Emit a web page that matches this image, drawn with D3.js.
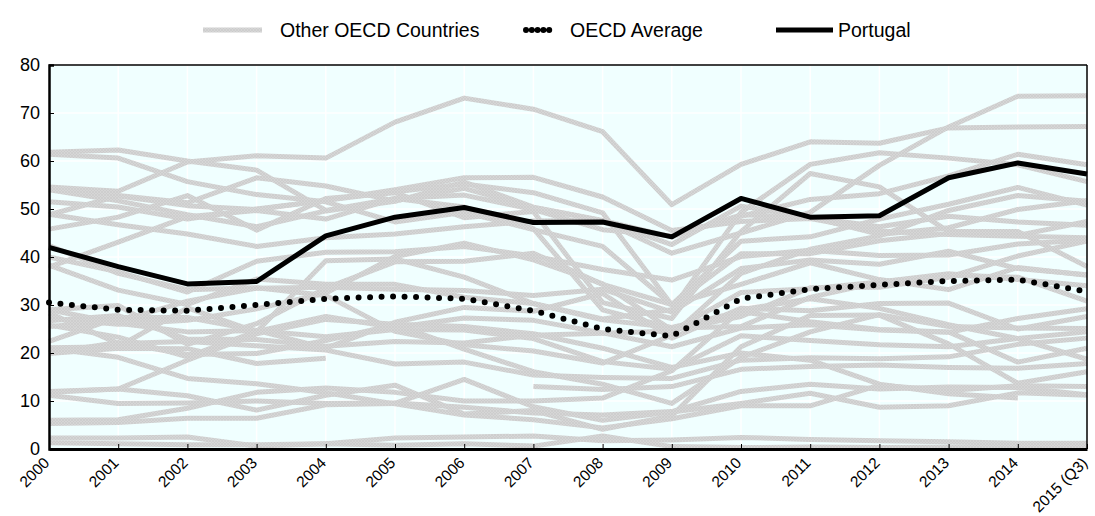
<!DOCTYPE html>
<html><head><meta charset="utf-8">
<script src="https://cdn.jsdelivr.net/npm/d3@7"></script>
<style>
body{margin:0;background:#fff;}
text{font-family:"Liberation Sans",Arial,sans-serif;fill:#000;}
</style></head>
<body><svg id="c" width="1095" height="516"></svg>
<script>
const years = ["2000","2001","2002","2003","2004","2005","2006","2007","2008","2009","2010","2011","2012","2013","2014","2015 (Q3)"];
const yTicks = [0,10,20,30,40,50,60,70,80];
const portugal = [42.0,38.0,34.4,34.9,44.4,48.3,50.3,47.2,47.3,44.2,52.2,48.3,48.6,56.5,59.6,57.3];
const oecdAverage = [30.5,29.0,28.8,30.0,31.3,31.8,31.3,28.8,25.0,23.5,31.3,33.3,34.2,35.0,35.3,32.8];
const otherNames = ["Slovak Republic","Italy","Slovenia","Belgium","Germany","Greece","Czech Republic","Hungary","Estonia","Poland","Ireland","France","Spain","Netherlands","Japan","Switzerland","Austria","United Kingdom","Luxembourg","Turkey","Finland","Denmark","Australia","Sweden","New Zealand","Iceland","Canada","United States","Norway","Israel","Korea","Mexico"];
const s01 = [54.6,53.7,59.8,61.1,60.6,68.1,73.1,70.8,66.1,50.9,59.3,64.0,63.7,66.9,67.1,67.2];
const s02 = [61.8,62.3,60.0,58.1,49.7,52.2,52.9,49.9,45.7,44.4,48.5,52.0,53.2,56.9,61.4,59.2];
const s03 = [61.4,60.6,55.7,53.0,51.5,47.3,49.3,45.7,42.2,30.1,43.3,44.2,47.9,51.0,54.5,50.8];
const s04 = [54.0,51.7,48.8,46.3,49.6,51.6,55.6,50.4,47.6,44.2,48.8,48.3,44.7,46.1,49.9,51.7];
const s05 = [51.5,50.4,47.9,50.0,51.8,54.0,56.5,56.6,52.5,45.5,47.4,48.0,45.4,44.7,44.3,44.0];
const s06 = [54.5,52.8,51.3,56.5,54.8,51.7,54.3,50.3,47.5,40.8,45.0,49.3,59.1,67.1,73.5,73.6];
const s07 = [48.8,52.7,50.7,49.9,51.8,53.6,55.2,53.4,49.2,30.0,40.7,40.7,43.4,44.9,44.5,47.4];
const s08 = [48.9,46.7,44.8,42.2,44.0,44.8,46.3,47.5,47.6,42.6,50.6,48.3,46.3,48.5,47.3,46.6];
const s09 = [45.8,48.3,52.8,45.6,52.2,53.4,48.2,49.5,30.5,27.2,45.3,57.4,54.6,45.3,45.3,38.0];
const s10 = [37.9,43.1,48.4,49.7,47.9,52.2,50.4,45.9,29.0,25.2,25.5,31.6,34.8,36.5,35.3,34.0];
const s11 = [38.3,33.1,30.1,35.4,34.3,34.3,31.6,30.3,27.1,29.0,49.3,59.3,61.7,60.6,59.2,55.7];
const s12 = [40.0,36.9,32.7,39.1,41.0,41.1,42.2,40.2,37.4,35.2,40.1,41.4,40.3,40.4,42.7,43.5];
const s13 = [42.4,36.6,33.2,33.6,32.0,24.5,21.7,20.4,17.9,23.7,36.6,41.6,44.4,49.7,52.8,51.6];
const s14 = [27.2,26.0,26.8,29.2,32.5,40.1,42.9,39.4,34.4,24.8,27.6,33.6,33.7,35.8,40.2,43.3];
const s15 = [25.5,26.6,30.8,33.5,33.7,33.3,33.0,32.0,33.3,28.5,37.6,39.4,38.5,41.2,37.6,36.3];
const s16 = [29.0,29.9,21.8,26.1,33.5,39.0,39.1,40.8,34.3,30.1,34.3,38.8,35.3,33.2,37.8,36.2];
const s17 = [25.8,23.3,19.2,24.5,27.6,25.3,27.3,26.8,24.2,21.3,25.2,25.9,24.8,24.3,27.2,29.2];
const s18 = [26.7,27.8,22.9,22.8,21.4,22.4,22.1,23.7,24.1,24.6,32.6,33.4,34.8,36.2,35.8,30.8];
const s19 = [22.4,27.4,27.4,24.7,21.0,26.4,29.5,28.7,32.4,23.1,29.3,28.8,30.3,30.4,25.0,27.6];
const s20 = [21.1,21.3,29.4,24.4,39.2,39.6,35.8,30.3,26.9,25.3,28.6,26.5,24.9,24.4,18.1,21.0];
const s21 = [29.0,26.2,24.4,24.7,23.4,24.9,24.8,23.0,18.2,16.6,23.6,22.6,21.7,21.3,23.0,24.4];
const s22 = [20.0,22.2,19.7,19.9,22.6,25.9,20.8,16.1,13.5,9.5,19.1,24.4,28.0,25.5,25.2,25.1];
const s23 = [28.3,22.0,22.4,21.5,20.6,17.7,18.1,15.4,14.9,14.7,18.5,19.0,18.8,19.2,21.8,23.1];
const s24 = [19.9,21.0,20.9,17.8,18.9,null,null,13.0,12.4,13.0,16.6,17.2,17.5,17.0,16.8,17.8];
const s25 = [21.0,19.1,14.7,13.6,11.7,9.4,7.1,6.1,4.4,6.3,9.0,9.0,13.3,12.2,13.2,13.0];
const s26 = [11.8,12.5,11.1,8.1,11.2,13.3,7.3,8.0,4.1,6.9,21.3,27.8,27.9,21.9,13.7,16.1];
const s27 = [11.2,9.5,9.6,10.0,9.5,9.6,8.7,7.5,7.1,7.8,12.0,13.5,12.5,12.9,12.8,11.3];
const s28 = [6.0,6.1,8.5,11.8,12.7,11.8,10.0,10.0,10.6,16.3,29.0,31.3,29.3,25.9,23.0,18.7];
const s29 = [5.3,5.5,6.4,6.4,9.2,9.5,14.5,8.8,6.0,7.7,9.5,11.6,8.7,9.0,11.7,11.2];
const s30 = [12.0,12.5,18.5,24.0,27.0,26.0,25.5,24.0,21.0,17.0,20.0,18.5,13.5,11.5,10.6,null];
const s31 = [2.3,2.3,2.5,0.6,1.1,0.8,1.1,0.6,2.7,0.5,0.3,0.4,0.3,0.4,0.6,0.4];
const s32 = [1.3,1.1,0.9,0.9,1.1,2.3,2.5,2.7,1.7,1.9,2.4,2.0,1.7,1.5,1.2,1.2];
const others = [s01,s02,s03,s04,s05,s06,s07,s08,s09,s10,s11,s12,s13,s14,s15,s16,s17,s18,s19,s20,s21,s22,s23,s24,s25,s26,s27,s28,s29,s30,s31,s32];
const legendLabels = ["Other OECD Countries","OECD Average","Portugal"];

const W = 1095, H = 516;
const m = {left:49, right:8, top:65, bottom:67};
const svg = d3.select("#c");
const defs = svg.append("defs");
const pat = defs.append("pattern").attr("id","hatch").attr("patternUnits","userSpaceOnUse")
  .attr("width",3).attr("height",3);
pat.append("rect").attr("width",3).attr("height",3).attr("fill","#d6d6d6");
pat.append("path").attr("d","M0,0L3,3M3,0L0,3").attr("stroke","#c9c9c9").attr("stroke-width",0.6);

const x = d3.scalePoint().domain(years).range([m.left, W - m.right]);
const y = d3.scaleLinear().domain([0,80]).range([H - m.bottom, m.top]);

svg.append("rect").attr("x",m.left).attr("y",m.top).attr("width",W-m.right-m.left).attr("height",H-m.bottom-m.top).attr("fill","#f0ffff");
svg.append("g").selectAll("line").data(years).join("line")
  .attr("x1",d=>x(d)).attr("x2",d=>x(d)).attr("y1",m.top).attr("y2",H-m.bottom)
  .attr("stroke","#fff").attr("stroke-width",1.5);
svg.append("g").selectAll("line").data(yTicks).join("line")
  .attr("x1",m.left).attr("x2",W-m.right).attr("y1",d=>y(d)).attr("y2",d=>y(d))
  .attr("stroke","#fff").attr("stroke-width",1.5);

const line = d3.line().defined(d=>d!=null).x((d,i)=>x(years[i])).y(d=>y(d));

svg.append("g").selectAll("path").data(others).join("path")
  .attr("d",line).attr("fill","none").attr("stroke","url(#hatch)").attr("stroke-width",5)
  .attr("stroke-linejoin","round");

svg.append("path").datum(oecdAverage).attr("d",line).attr("fill","none")
  .attr("stroke","#000").attr("stroke-width",6).attr("stroke-linecap","round")
  .attr("stroke-dasharray","0 11.5");
svg.append("path").datum(portugal).attr("d",line).attr("fill","none")
  .attr("stroke","#000").attr("stroke-width",5).attr("stroke-linejoin","round");

svg.append("line").attr("x1",m.left).attr("x2",W-m.right).attr("y1",m.top).attr("y2",m.top).attr("stroke","#000").attr("stroke-width",1.5);
svg.append("line").attr("x1",W-m.right).attr("x2",W-m.right).attr("y1",m.top).attr("y2",H-m.bottom).attr("stroke","#000").attr("stroke-width",1.5);

const yAxis = svg.append("g").attr("transform",`translate(${m.left},0)`)
  .call(d3.axisLeft(y).tickValues(yTicks).tickSize(-5).tickPadding(9));
yAxis.select(".domain").attr("stroke-width",2.5);
yAxis.selectAll("text").attr("font-size",18).attr("font-family","Liberation Sans, Arial, sans-serif");
const xAxis = svg.append("g").attr("transform",`translate(0,${H-m.bottom})`)
  .call(d3.axisBottom(x).tickSize(-5).tickSizeOuter(0).tickPadding(8));
xAxis.select(".domain").attr("stroke-width",3);
xAxis.selectAll(".tick text").attr("font-size",15.5).attr("font-family","Liberation Sans, Arial, sans-serif")
  .attr("text-anchor","end").attr("dy","0").attr("y",0).attr("x",0)
  .attr("dominant-baseline","middle").attr("transform","translate(-2,12) rotate(-45)");

const lg = svg.append("g");
const ly = 30;
lg.append("line").attr("x1",203).attr("x2",262).attr("y1",ly).attr("y2",ly).attr("stroke","url(#hatch)").attr("stroke-width",5);
lg.append("text").attr("x",280).attr("y",ly).attr("dy","0.35em").attr("font-size",19.5).text(legendLabels[0]);
lg.append("line").attr("x1",526).attr("x2",555).attr("y1",ly).attr("y2",ly).attr("stroke","#000").attr("stroke-width",6)
  .attr("stroke-linecap","round").attr("stroke-dasharray","0 5.8");
lg.append("text").attr("x",570).attr("y",ly).attr("dy","0.35em").attr("font-size",19.5).text(legendLabels[1]);
lg.append("line").attr("x1",776).attr("x2",833).attr("y1",ly).attr("y2",ly).attr("stroke","#000").attr("stroke-width",5);
lg.append("text").attr("x",838).attr("y",ly).attr("dy","0.35em").attr("font-size",19.5).text(legendLabels[2]);
</script></body></html>
